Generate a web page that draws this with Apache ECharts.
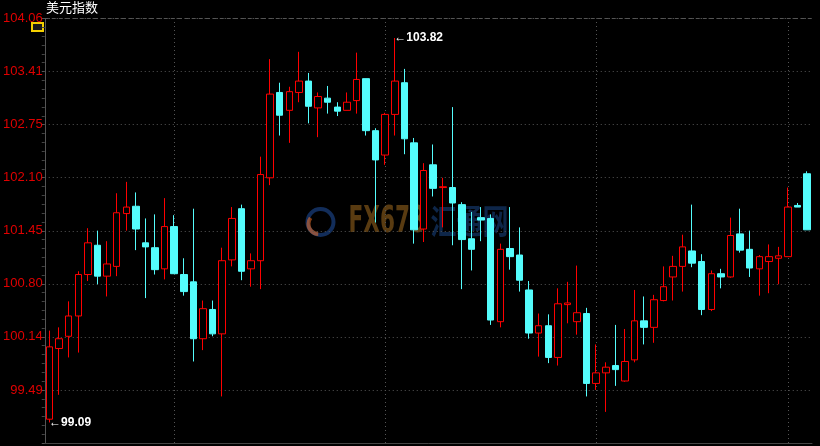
<!DOCTYPE html>
<html>
<head>
<meta charset="utf-8">
<script src="https://cdn.jsdelivr.net/npm/echarts@6/dist/echarts.min.js"></script>
<style>
  html, body { margin: 0; padding: 0; background: #000; }
  #chart { width: 820px; height: 446px; }
</style>
</head>
<body>
<div id="chart"></div>
<script>
// 美元指数 日K
const opens = [99.13, 100.00, 100.15, 100.40, 100.91, 101.27, 100.89, 101.01, 101.66, 101.75,
  101.30, 101.24, 100.98, 101.50, 100.91, 100.82, 100.12, 100.48, 100.18, 101.09,
  101.72, 100.98, 101.08, 102.10, 103.15, 102.93, 103.15, 103.29, 102.96, 103.08,
  102.97, 102.93, 103.05, 103.32, 102.68, 102.38, 102.88, 103.27, 102.53, 101.47,
  102.26, 101.98, 101.98, 101.77, 101.35, 101.61, 101.60, 100.33, 101.23, 101.15,
  100.72, 100.19, 100.28, 99.89, 100.54, 100.33, 100.43, 99.57, 99.70, 99.79,
  99.60, 99.86, 100.34, 100.26, 100.59, 100.88, 101.01, 101.20, 101.07, 100.48,
  100.92, 100.88, 101.41, 101.22, 100.98, 101.07, 101.11, 101.13, 101.76, 102.15]
const closes = [100.02, 100.12, 100.40, 100.91, 101.30, 100.89, 101.04, 101.67, 101.74, 101.47,
  101.25, 100.97, 101.50, 100.92, 100.70, 100.12, 100.49, 100.18, 101.08, 101.60,
  100.95, 101.08, 102.14, 103.13, 102.87, 103.16, 103.29, 102.98, 103.10, 103.03,
  102.92, 103.03, 103.31, 102.68, 102.32, 102.88, 103.29, 102.58, 101.46, 102.19,
  101.97, 101.99, 101.79, 101.34, 101.22, 101.58, 100.35, 101.22, 101.13, 100.84,
  100.19, 100.28, 99.89, 100.55, 100.56, 100.44, 99.57, 99.70, 99.77, 99.74,
  99.84, 100.34, 100.26, 100.60, 100.76, 101.01, 101.25, 101.05, 100.48, 100.92,
  100.88, 101.39, 101.21, 100.99, 101.13, 101.13, 101.14, 101.74, 101.74, 101.46]
const lows = [99.09, 99.43, 99.89, 99.95, 100.83, 100.79, 100.64, 100.89, 101.45, 101.21,
  100.62, 100.91, 100.85, 100.92, 100.65, 99.84, 99.98, 100.15, 99.41, 101.01,
  100.84, 100.76, 100.73, 102.01, 102.62, 102.53, 103.03, 102.77, 102.60, 102.89,
  102.86, 102.93, 102.89, 102.62, 101.55, 102.26, 102.62, 102.39, 101.29, 101.31,
  101.87, 101.49, 101.27, 100.73, 100.96, 101.32, 100.29, 100.26, 100.97, 100.70,
  100.12, 99.90, 99.82, 99.79, 100.31, 100.17, 99.41, 99.49, 99.22, 99.54,
  99.59, 99.83, 100.05, 100.07, 100.58, 100.59, 100.70, 101.00, 100.41, 100.46,
  100.74, 100.87, 101.18, 100.88, 100.65, 100.68, 100.79, 101.13, 101.74, 101.46]
const highs = [100.22, 100.26, 100.58, 100.95, 101.48, 101.45, 101.32, 101.91, 102.05, 101.92,
  101.60, 101.65, 101.85, 101.64, 101.11, 101.72, 100.59, 100.59, 101.24, 101.74,
  101.77, 101.17, 102.36, 103.56, 103.27, 103.22, 103.65, 103.39, 103.15, 103.23,
  103.03, 103.15, 103.64, 103.32, 102.71, 102.90, 103.82, 103.44, 102.59, 102.28,
  102.51, 102.10, 102.97, 101.80, 101.68, 101.74, 101.65, 101.29, 101.74, 101.49,
  100.83, 100.43, 100.42, 100.74, 100.82, 101.02, 100.50, 100.05, 99.83, 100.29,
  100.24, 100.72, 100.64, 100.66, 101.01, 101.14, 101.40, 101.77, 101.16, 100.96,
  100.98, 101.61, 101.72, 101.45, 101.15, 101.28, 101.25, 101.98, 101.79, 102.18]
// 竖向分隔线所在的K线(月初)
const monthStarts = [13, 35, 57, 77]
// 纵轴刻度
const yTop = 104.06
const yStep = 0.652857
const yMin = 98.837143

const days = opens.map((v, i) => String(i + 1))
const kData = opens.map((o, i) => [o, closes[i], lows[i], highs[i]])

// 最高/最低点
let hiIdx = 0
let loIdx = 0
highs.forEach((h, i) => { if (h > highs[hiIdx]) hiIdx = i })
lows.forEach((l, i) => { if (l < lows[loIdx]) loIdx = i })

const mychart = echarts.init(document.getElementById('chart'))
const option = {
  animation: false,
  backgroundColor: '#000',
  title: {
    text: '美元指数',
    left: 46,
    top: 1,
    padding: 0,
    textStyle: {
      color: '#fff',
      fontSize: 13,
      fontWeight: 'normal',
      fontFamily: 'Noto Sans CJK SC'
    }
  },
  grid: {
    left: 44,
    right: 8,
    top: 18.5,
    bottom: 3
  },
  xAxis: {
    type: 'category',
    data: days,
    boundaryGap: true,
    axisLine: { lineStyle: { color: '#444' } },
    axisTick: { show: false },
    axisLabel: { show: false },
    splitLine: { show: false }
  },
  yAxis: {
    type: 'value',
    min: yMin,
    max: yTop,
    interval: yStep,
    axisLine: { show: true, lineStyle: { color: '#555' } },
    axisTick: { show: true, length: 3, lineStyle: { color: '#555' } },
    minorTick: { show: true, splitNumber: 6, length: 3, lineStyle: { color: '#444' } },
    axisLabel: {
      showMinLabel: false,
      color: '#e00000',
      fontSize: 13,
      fontFamily: 'Liberation Sans',
      margin: 2,
      formatter: v => v.toFixed(2)
    },
    splitLine: {
      show: true,
      lineStyle: { color: '#555', type: [1, 3] }
    }
  },
  series: [
    {
      type: 'candlestick',
      data: kData,
      barWidth: 7,
      z: 3,
      itemStyle: {
        color: '#000',
        color0: '#54fcfc',
        borderColor: '#ff0000',
        borderColor0: '#54fcfc',
        borderWidth: 1
      },
      markLine: {
        silent: true,
        z: 1,
        symbol: 'none',
        label: { show: false },
        lineStyle: { color: '#555', type: [1, 3], width: 1 },
        data: monthStarts.map(i => ({ xAxis: i }))
          .concat([{ yAxis: yTop, lineStyle: { type: [4, 3] } }])
      },
      markPoint: {
        silent: true,
        symbol: 'circle',
        symbolSize: 1,
        itemStyle: { color: 'rgba(0,0,0,0)' },
        label: {
          show: true,
          position: 'right',
          distance: -1,
          color: '#fff',
          fontSize: 12,
          fontWeight: 'bold',
          fontFamily: 'Liberation Sans'
        },
        data: [
          { coord: [hiIdx, highs[hiIdx]], label: { formatter: '←' + highs[hiIdx].toFixed(2) } },
          { coord: [loIdx, lows[loIdx]], label: { formatter: '←' + lows[loIdx].toFixed(2) } }
        ]
      }
    }
  ],
  graphic: [
    // 左上角小方块
    {
      type: 'rect',
      left: 31,
      top: 22,
      shape: { width: 11, height: 8 },
      style: { fill: '#1a1a1a', stroke: '#f5d000', lineWidth: 2 }
    },
    // 水印
    {
      type: 'group',
      left: 305,
      top: 204,
      z: 100,
      silent: true,
      children: [
        {
          type: 'circle',
          shape: { cx: 17, cy: 18, r: 13 },
          style: { fill: 'none', stroke: 'rgba(40,100,200,0.45)', lineWidth: 4 }
        },
        {
          type: 'arc',
          shape: { cx: 15, cy: 20, r: 10, startAngle: 1.6, endAngle: 3.8 },
          style: { fill: 'none', stroke: 'rgba(255,120,40,0.5)', lineWidth: 4 }
        },
        {
          type: 'text',
          x: 45,
          y: 0,
          scaleY: 1.55,
          style: {
            text: 'FX678',
            fill: 'rgba(255,170,50,0.35)',
            font: 'bold 24px "DejaVu Sans Condensed"'
          }
        },
        {
          type: 'text',
          x: 127,
          y: 0,
          scaleY: 1.3,
          style: {
            text: '汇通网',
            fill: 'rgba(40,110,210,0.35)',
            font: 'bold 26px "Noto Sans CJK SC"'
          }
        }
      ]
    }
  ]
}
mychart.setOption(option)
</script>
</body>
</html>
